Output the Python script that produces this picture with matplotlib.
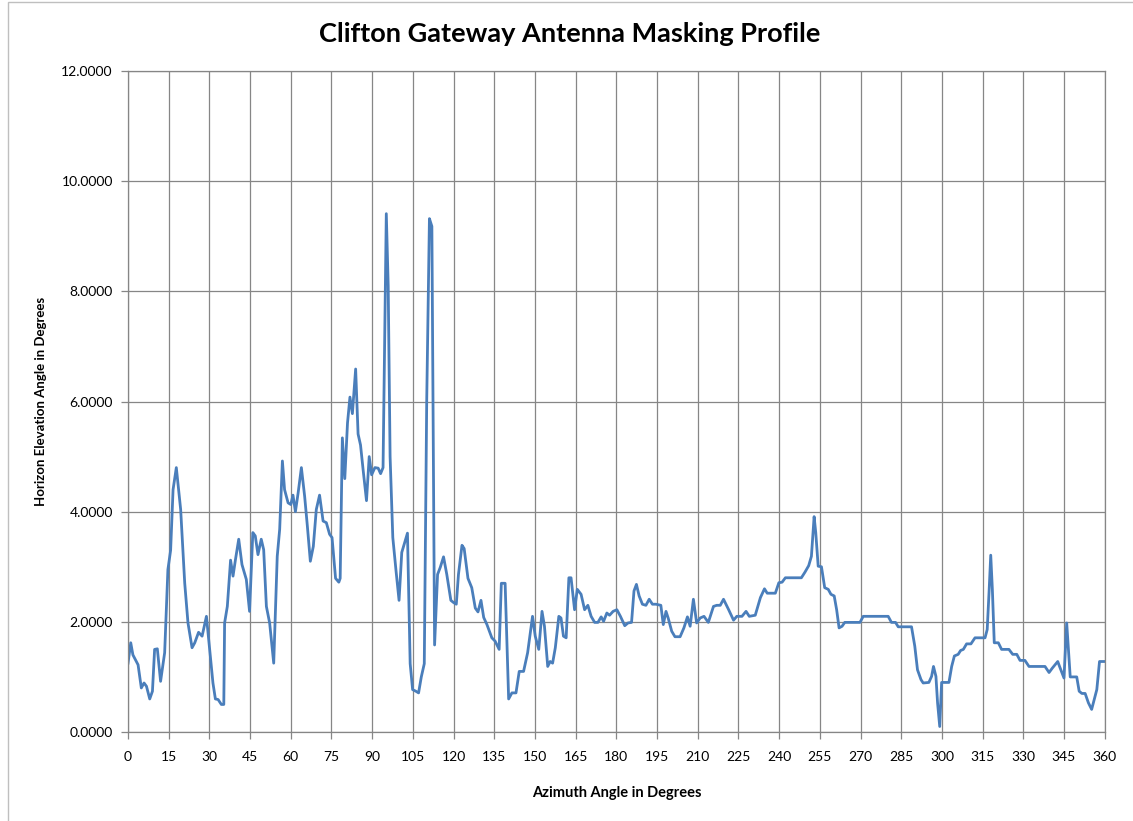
import matplotlib.pyplot as plt
from matplotlib.patches import Rectangle

plt.rcParams["font.family"] = ["Lato", "DejaVu Sans"]

# azimuth (deg) and horizon elevation (deg)
azimuth = [0, 1, 1.8, 3.7, 4.9, 5.9, 6.8, 8, 9, 9.8, 10.8, 12, 13.5, 14.7, 15.7,
           16.6, 17.8, 19.4, 20.9, 22.1, 23.6, 24.6, 26, 27.3, 28.9, 30.1, 31.3,
           32.2, 33.2, 34.4, 35.3, 35.6, 36.6, 37.8, 38.7, 39.6, 40.8, 42, 43.6,
           44.8, 46, 46.9, 47.9, 49.1, 50, 51, 52.2, 53.7, 55, 55.9, 56.9, 57.7,
           59, 60, 60.8, 61.7, 62.7, 63.9, 65.1, 66.1, 67.2, 68.3, 69.4, 70.6,
           71.9, 73.1, 74.3, 75.2, 76.5, 77.7, 78.2, 79.0, 79.9, 80.9, 81.8,
           82.7, 83.9, 84.8, 85.7, 86.7, 87.9, 88.9, 89.8, 91, 92.2, 93.1, 94.0,
           95.2, 95.9, 96.6, 97.6, 98.8, 99.9, 100.9, 102.1, 103.0, 104.0,
           104.9, 106.1, 107.1, 108.1, 109.2, 110.1, 111.1, 112.0, 113.0, 114.1,
           115.1, 116.3, 117.5, 119.0, 120.0, 121.0, 121.8, 123.1, 123.9, 125.3,
           126.7, 128.0, 129.0, 130.1, 131.1, 132.3, 134.1, 135.3, 136.8, 137.6,
           139.0, 140.3, 141.5, 143.0, 144.2, 145.8, 147.3, 149.1, 150.1, 151.4,
           152.6, 153.5, 154.7, 155.6, 156.5, 157.5, 158.8, 159.6, 160.5, 161.5,
           162.5, 163.3, 164.6, 165.6, 167, 168.3, 169.5, 170.7, 172, 173.2,
           174.4, 175.3, 176.5, 177.5, 178.8, 180.2, 181.5, 183.1, 184.3, 185.6,
           186.5, 187.4, 188.4, 189.6, 190.9, 192.1, 193.3, 194.6, 196.4, 197.3,
           198.3, 199.1, 200.4, 201.6, 203.5, 204.9, 206.2, 207.2, 208.4, 209.6,
           210.9, 212.3, 213.9, 215.8, 217, 218.3, 219.5, 221.4, 223.2, 224.4,
           226.3, 227.8, 229, 231.2, 233.1, 234.6, 235.6, 238.6, 239.9, 241.1,
           242.3, 248.2, 249.5, 250.9, 251.9, 252.9, 253.5, 254.4, 255.6, 256.8,
           258.1, 259.1, 260.3, 261.2, 262.1, 263.2, 264.2, 269.8, 271, 280.2,
           281.4, 282.9, 283.9, 288.8, 290, 291, 292.3, 293.1, 295.2, 296.2,
           296.9, 297.8, 298.4, 299.2, 299.9, 302.6, 303.6, 304.6, 306, 306.9,
           307.9, 309.1, 310.7, 312.2, 315.9, 316.7, 317.4, 318, 318.6, 319.3,
           320.8, 322, 324.7, 326.1, 327.6, 328.8, 330.6, 332.1, 338, 339.5,
           340.7, 342.7, 343.6, 345, 346, 347.3, 349.7, 350.6, 351.6, 352.8, 354,
           355.2, 357.1, 358.1, 360]
elevation = [1.25, 1.62, 1.4, 1.22, 0.8, 0.89, 0.83, 0.6, 0.74, 1.5, 1.51, 0.92,
             1.44, 2.95, 3.3, 4.4, 4.8, 4.04, 2.7, 1.98, 1.53, 1.62, 1.81, 1.74,
             2.1, 1.5, 0.89, 0.6, 0.59, 0.5, 0.5, 1.98, 2.28, 3.12, 2.83, 3.13,
             3.5, 3.04, 2.77, 2.19, 3.62, 3.56, 3.22, 3.5, 3.31, 2.28, 1.98, 1.25,
             3.19, 3.68, 4.92, 4.4, 4.16, 4.13, 4.3, 4.0, 4.34, 4.8, 4.28, 3.74,
             3.1, 3.37, 4.04, 4.3, 3.83, 3.8, 3.59, 3.53, 2.79, 2.72, 2.79, 5.34,
             4.6, 5.61, 6.08, 5.78, 6.59, 5.41, 5.21, 4.74, 4.2, 5.0, 4.67, 4.8,
             4.79, 4.69, 4.8, 9.41, 8.1, 5.0, 3.53, 2.92, 2.39, 3.26, 3.46, 3.61,
             1.24, 0.77, 0.74, 0.71, 1.0, 1.24, 6.02, 9.32, 9.18, 1.58, 2.86,
             2.99, 3.18, 2.86, 2.39, 2.35, 2.32, 2.86, 3.39, 3.33, 2.79, 2.62,
             2.25, 2.18, 2.39, 2.08, 1.95, 1.71, 1.65, 1.5, 2.7, 2.7, 0.6, 0.71,
             0.71, 1.1, 1.1, 1.44, 2.1, 1.74, 1.5, 2.19, 1.92, 1.19, 1.28, 1.25,
             1.53, 2.1, 2.07, 1.74, 1.71, 2.8, 2.8, 2.22, 2.59, 2.5, 2.22, 2.3,
             2.1, 1.99, 1.99, 2.09, 2.01, 2.16, 2.12, 2.19, 2.22, 2.1, 1.93, 1.98,
             1.99, 2.56, 2.68, 2.47, 2.32, 2.3, 2.41, 2.32, 2.32, 2.3, 1.95, 2.19,
             2.07, 1.83, 1.73, 1.73, 1.89, 2.09, 1.92, 2.41, 1.98, 2.07, 2.1,
             1.99, 2.28, 2.3, 2.3, 2.41, 2.22, 2.03, 2.1, 2.1, 2.19, 2.1, 2.12,
             2.44, 2.6, 2.52, 2.52, 2.71, 2.72, 2.8, 2.8, 2.9, 3.02, 3.19, 3.91,
             3.62, 3.01, 3.0, 2.62, 2.59, 2.5, 2.47, 2.22, 1.89, 1.92, 1.99, 1.99,
             2.1, 2.1, 1.99, 1.99, 1.91, 1.91, 1.56, 1.13, 0.95, 0.89, 0.9, 1.01,
             1.19, 1.01, 0.53, 0.1, 0.9, 0.9, 1.19, 1.38, 1.41, 1.48, 1.5, 1.6,
             1.6, 1.71, 1.71, 1.86, 2.56, 3.21, 2.59, 1.62, 1.62, 1.5, 1.5, 1.41,
             1.41, 1.3, 1.3, 1.19, 1.19, 1.08, 1.16, 1.28, 1.16, 0.98, 1.98, 1.0,
             1.0, 0.74, 0.7, 0.7, 0.53, 0.41, 0.77, 1.28, 1.28]

x_ticks = list(range(0, 361, 15))
y_ticks = [0, 2, 4, 6, 8, 10, 12]

fig = plt.figure(figsize=(11.33, 8.21), dpi=100)
ax = fig.add_axes([0.113, 0.1084, 0.862, 0.8051])

grid_col = '#868686'
ax.plot(azimuth, elevation, color='#4A7EBB', linewidth=2.0, solid_joinstyle='round')

ax.set_xlim(0, 360)
ax.set_ylim(0, 12)
ax.set_xticks(x_ticks)
ax.set_yticks(y_ticks)
ax.set_xticklabels([str(t) for t in x_ticks], fontsize=10)
ax.set_yticklabels(['%.4f' % t for t in y_ticks], fontsize=10)
ax.grid(True, color=grid_col, linewidth=0.9)
ax.set_axisbelow(True)
for s in ax.spines.values():
    s.set_color(grid_col)
    s.set_linewidth(0.9)
ax.tick_params(axis='both', color=grid_col, length=5, width=0.9, pad=6)
ax.tick_params(axis='x', pad=9)

ax.set_xlabel('Azimuth Angle in Degrees', fontsize=10.5, fontweight='bold', labelpad=16)
ax.set_ylabel('Horizon Elevation Angle in Degrees', fontsize=9.5, fontweight='bold', labelpad=10)
fig.text(0.503, 0.958, 'Clifton Gateway Antenna Masking Profile', ha='center', va='center',
         fontsize=19.5, fontweight='bold')

fig.patches.append(Rectangle((8 / 1133, -0.05), 1.1, 1.0475, transform=fig.transFigure,
                             fill=False, edgecolor='#bfbfbf', linewidth=1))

fig.savefig('out.png', dpi=100)
